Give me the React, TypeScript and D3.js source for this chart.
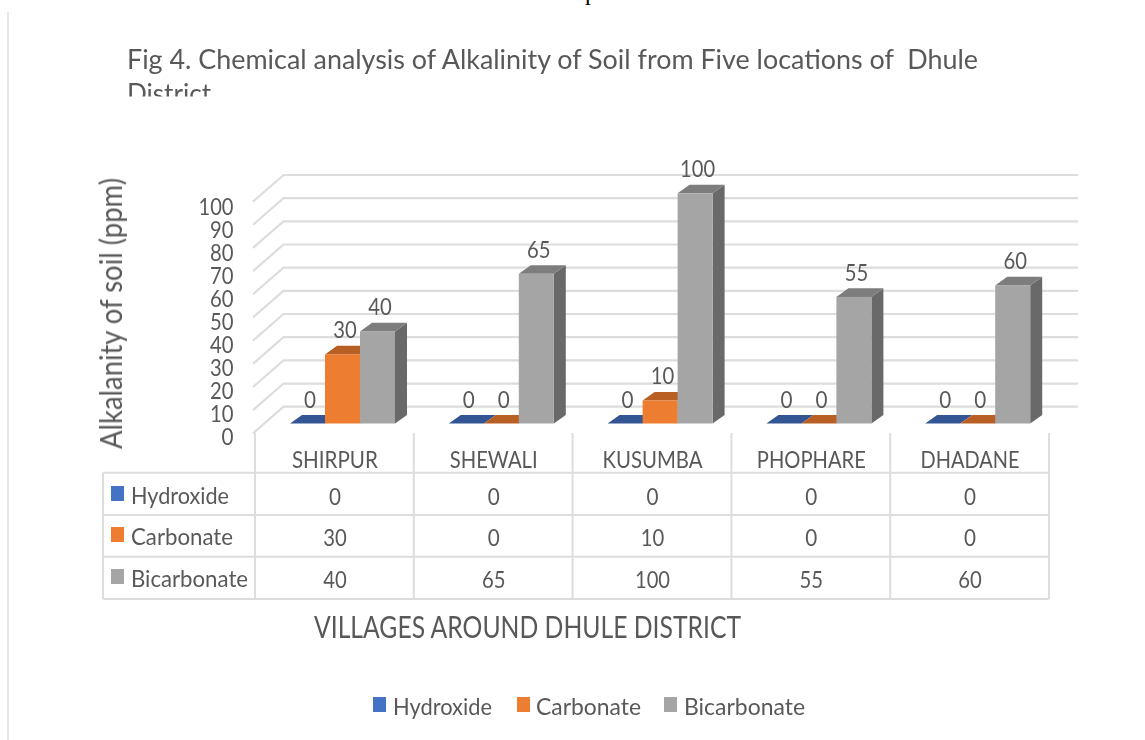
import React from "react";
import * as d3 from "d3";

const categories = ["SHIRPUR", "SHEWALI", "KUSUMBA", "PHOPHARE", "DHADANE"];
const seriesNames = ["Hydroxide", "Carbonate", "Bicarbonate"];
const hydroxide = [0, 0, 0, 0, 0];
const carbonate = [30, 0, 10, 0, 0];
const bicarbonate = [40, 65, 100, 55, 60];
const yTicks = [0, 10, 20, 30, 40, 50, 60, 70, 80, 90, 100];
const titleLines = ["Fig 4. Chemical analysis of Alkalinity of Soil from Five locations of  Dhule", "District"];

const seriesValues = [hydroxide, carbonate, bicarbonate];
const front = ["#4472C4", "#ED7D31", "#A5A5A5"];
const top = ["#335593", "#B85F23", "#7D7D7D"];
const side = ["#2A4779", "#9A4F1D", "#696969"];
const GRID = "#DDDDDD";
const TEXT = "#595959";
const FONT = "Lato, 'Noto Sans', sans-serif";

const x0 = d3.scaleBand<string>().domain(categories).range([255, 1049]);
const xS = d3.scaleBand<string>().domain(seriesNames).range([0, 105]);
const y = d3.scaleLinear().domain([0, 100]).range([423.5, 193.3]);
const yBack = d3.scaleLinear().domain([0, 100]).range([406.7, 175]);
const yLabel = d3.scaleLinear().domain([0, 100]).range([436.5, 206.5]);
const GROUP_OFFSET = 35;
const DX = 12;
const DY = 8.6;

const catWidths = [86, 88, 100, 109, 99];
const seriesLabelWidths = [98, 102, 117];
const rowCenters = [497, 538, 580];
const rowLines = [472.7, 515, 556.7, 599];
const legendX = [373, 517, 664];
const legendTextX = [393, 536, 684];
const legendW = [99, 105, 121];

type TP = {
  x: number; y: number; size: number; w?: number; anchor?: "start" | "middle" | "end";
  fill?: string; children: React.ReactNode; transform?: string; family?: string;
};
function T({ x, y, size, w, anchor = "start", fill = TEXT, children, transform, family = FONT }: TP) {
  return (
    <text x={x} y={y} fontSize={size} fontFamily={family} fill={fill} textAnchor={anchor} transform={transform}
      textLength={w} lengthAdjust={w ? "spacingAndGlyphs" : undefined} xmlSpace="preserve">
      {children}
    </text>
  );
}
const poly = (pts: number[][]) => pts.map((p) => p.join(",")).join(" ");
const numW = (v: number) => (v === 100 ? 35 : v === 0 ? 12 : 23.5);

export default function App() {
  const bw = xS.bandwidth();
  const gridLeft = x0.range()[0] - 2;
  return (
    <svg width={1145} height={740} style={{ position: "absolute", left: 0, top: 0, background: "#fff" }}>
      <defs>
        <clipPath id="titleClip"><rect x={100} y={30} width={950} height={66.5} /></clipPath>
        <filter id="soft" x="-5%" y="-5%" width="110%" height="110%">
          <feGaussianBlur stdDeviation={0.35} />
        </filter>
      </defs>

      <T x={597} y={0} size={24} anchor="end" fill="#000" family="'Liberation Serif', serif">Group</T>
      <line x1={8} x2={8} y1={12} y2={740} stroke="#E0E0E0" strokeWidth={1.5} />

      {yTicks.map((t) => (
        <polyline key={t} fill="none" stroke={GRID} strokeWidth={2.2}
          points={poly([[gridLeft, yBack(t) + 26.6], [gridLeft + 30.5, yBack(t)], [1078, yBack(t)]])} />
      ))}

      {categories.map((c, i) => (
        <g key={c}>
          {seriesNames.map((s, k) => {
            const v = seriesValues[k][i];
            const xl = x0(c)! + GROUP_OFFSET + xS(s)!;
            const xr = xl + bw;
            const yt = y(v);
            const yb = y(0);
            return (
              <g key={s}>
                <polygon fill={side[k]} points={poly([[xr, yb], [xr + DX, yb - DY], [xr + DX, yt - DY], [xr, yt]])} />
                <polygon fill={top[k]} points={poly([[xl, yt], [xr, yt], [xr + DX, yt - DY], [xl + DX, yt - DY]])} />
                {v > 0 && <rect x={xl} y={yt} width={bw} height={yb - yt} fill={front[k]} />}
              </g>
            );
          })}
        </g>
      ))}

      {x0.domain().map((c) => (
        <line key={c} x1={x0(c)!} x2={x0(c)!} y1={433} y2={599} stroke={GRID} strokeWidth={2} />
      ))}
      <line x1={1049} x2={1049} y1={433} y2={599} stroke={GRID} strokeWidth={2} />
      <line x1={103} x2={103} y1={rowLines[0]} y2={599} stroke={GRID} strokeWidth={2} />
      {rowLines.map((r) => (
        <line key={r} x1={103} x2={1049} y1={r} y2={r} stroke={GRID} strokeWidth={2} />
      ))}

      <g filter="url(#soft)">
        <g clipPath="url(#titleClip)">
          <T x={127} y={69} size={27} w={851}>{titleLines[0]}</T>
          <T x={127} y={103} size={27} w={84}>{titleLines[1]}</T>
        </g>

        <T x={0} y={0} size={30.5} w={271} anchor="middle" transform="translate(122,313.5) rotate(-90)">Alkalanity of soil (ppm)</T>

        {yTicks.map((t) => (
          <T key={t} x={233.5} y={yLabel(t) + 8} size={22.5} anchor="end" w={numW(t)}>{t}</T>
        ))}

        {categories.map((c, i) =>
          seriesNames.map((s, k) => {
            const v = seriesValues[k][i];
            return (
              <T key={c + s} x={x0(c)! + GROUP_OFFSET + xS(s)! + bw / 2 + 2.5} y={y(v) - 16} size={22.5} anchor="middle"
                w={numW(v)}>{v}</T>
            );
          })
        )}

        {categories.map((c, i) => (
          <T key={c} x={x0(c)! + x0.bandwidth() / 2 + 0.5} y={468} size={22.5} anchor="middle" w={catWidths[i]}>{c}</T>
        ))}

        {seriesNames.map((s, k) => (
          <g key={s}>
            <T x={131} y={rowCenters[k] + 6.5} size={22.5} w={seriesLabelWidths[k]}>{s}</T>
            {categories.map((c, i) => {
              const v = seriesValues[k][i];
              return (
                <T key={c} x={x0(c)! + x0.bandwidth() / 2 + 0.5} y={rowCenters[k] + 8} size={22.5} anchor="middle"
                  w={numW(v)}>{v}</T>
              );
            })}
          </g>
        ))}

        <T x={314} y={638} size={30} w={427}>VILLAGES AROUND DHULE DISTRICT</T>

        {seriesNames.map((s, k) => (
          <T key={s} x={legendTextX[k]} y={715} size={22.5} w={legendW[k]}>{s}</T>
        ))}
      </g>

      {seriesNames.map((s, k) => (
        <rect key={s} x={111} y={rowCenters[k] - 11} width={13} height={15} fill={front[k]} />
      ))}
      {seriesNames.map((s, k) => (
        <rect key={s} x={legendX[k]} y={697} width={13} height={15} fill={front[k]} />
      ))}
    </svg>
  );
}
